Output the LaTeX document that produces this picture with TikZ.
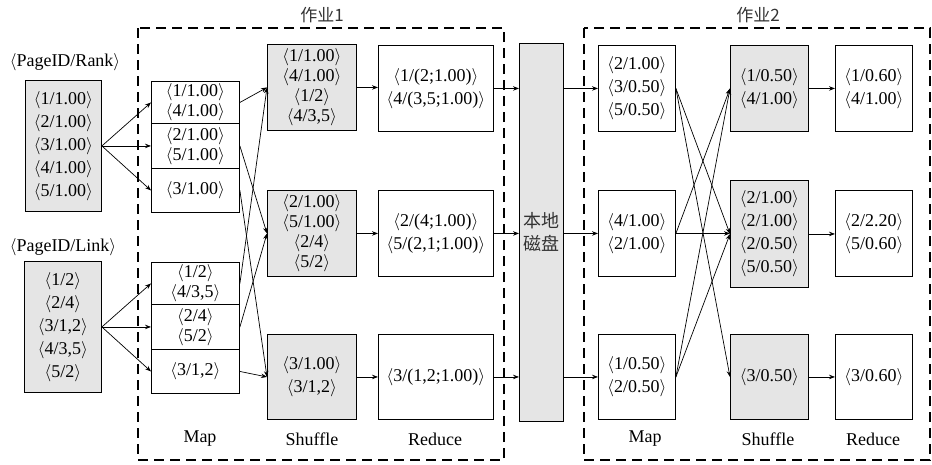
\documentclass[tikz,border=0pt]{standalone}
\usepackage{fontspec}
\setmainfont{Liberation Serif}
\newfontfamily\cjk{Noto Sans CJK SC}
\usetikzlibrary{arrows.meta}
\newcommand\pr[1]{$\langle$#1$\rangle$}
\begin{document}
\begin{tikzpicture}[x=1pt,y=-1pt,
  box/.style={draw,line width=0.9pt,inner sep=0pt,anchor=north west,align=center,
    font=\fontsize{18}{20}\selectfont},
  gbox/.style={box,fill=black!10},
  tall/.style={font=\fontsize{18}{23}\selectfont},
  lbl/.style={font=\fontsize{18}{20}\selectfont,inner sep=0pt},
  job/.style={draw,line width=2.6pt,dash pattern=on 10pt off 6pt},
  arr/.style={line width=0.7pt,-{Stealth[length=6pt,width=4.5pt]}}]
\useasboundingbox (0,0) rectangle (932,464);
% job frames
\draw[job] (138,28) rectangle (504,460);
\draw[job] (584,28) rectangle (930,460);
\node[lbl,font=\cjk\fontsize{17}{20}\selectfont,text=black!80] (j1) at (322,15) {作业1};
\node[lbl,font=\cjk\fontsize{17}{20}\selectfont,text=black!80] (j2) at (758,15) {作业2};
% inputs
\node[lbl] (rl) at (65,62) {\pr{PageID/Rank}};
\node[lbl] (ll) at (63,247) {\pr{PageID/Link}};
\node[gbox,tall,minimum width=76pt,minimum height=131pt] (rank) at (25,80)
  {\pr{1/1.00}\\\pr{2/1.00}\\\pr{3/1.00}\\\pr{4/1.00}\\\pr{5/1.00}};
\node[gbox,tall,minimum width=77pt,minimum height=131pt] (link) at (24,261)
  {\pr{1/2}\\\pr{2/4}\\\pr{3/1,2}\\\pr{4/3,5}\\\pr{5/2}};
% job1 map
\node[box,minimum width=88pt,minimum height=42pt] (m1) at (151,81) {\pr{1/1.00}\\\pr{4/1.00}};
\node[box,minimum width=88pt,minimum height=45pt] (m2) at (151,123) {\pr{2/1.00}\\\pr{5/1.00}};
\node[box,minimum width=88pt,minimum height=44pt] (m3) at (151,168) {\pr{3/1.00}};
\node[box,minimum width=88pt,minimum height=42pt] (m4) at (151,262) {\pr{1/2}\\\pr{4/3,5}};
\node[box,minimum width=88pt,minimum height=45pt] (m5) at (151,304) {\pr{2/4}\\\pr{5/2}};
\node[box,minimum width=88pt,minimum height=44pt] (m6) at (151,349) {\pr{3/1,2}};
% job1 shuffle
\node[gbox,minimum width=89pt,minimum height=86pt] (s1) at (267,44)
  {\pr{1/1.00}\\\pr{4/1.00}\\\pr{1/2}\\\pr{4/3,5}};
\node[gbox,minimum width=89pt,minimum height=86pt] (s2) at (267,190)
  {\pr{2/1.00}\\\pr{5/1.00}\\\pr{2/4}\\\pr{5/2}};
\node[gbox,tall,minimum width=89pt,minimum height=85pt] (s3) at (267,334)
  {\pr{3/1.00}\\\pr{3/1,2}};
% job1 reduce
\node[box,tall,minimum width=115pt,minimum height=86pt] (r1) at (378,45)
  {\pr{1/(2;1.00)}\\\pr{4/(3,5;1.00)}};
\node[box,tall,minimum width=115pt,minimum height=86pt] (r2) at (378,190)
  {\pr{2/(4;1.00)}\\\pr{5/(2,1;1.00)}};
\node[box,minimum width=115pt,minimum height=85pt] (r3) at (378,334)
  {\pr{3/(1,2;1.00)}};
% disk
\node[gbox,minimum width=44pt,minimum height=378pt,
  font=\cjk\fontsize{18}{23}\selectfont,text=black!80] (disk) at (519,43) {本地\\磁盘};
% job2 map
\node[box,tall,minimum width=77pt,minimum height=86pt] (n1) at (598,45)
  {\pr{2/1.00}\\\pr{3/0.50}\\\pr{5/0.50}};
\node[box,tall,minimum width=77pt,minimum height=86pt] (n2) at (598,190)
  {\pr{4/1.00}\\\pr{2/1.00}};
\node[box,tall,minimum width=77pt,minimum height=85pt] (n3) at (598,334)
  {\pr{1/0.50}\\\pr{2/0.50}};
% job2 shuffle
\node[gbox,tall,minimum width=78pt,minimum height=86pt] (t1) at (730,45)
  {\pr{1/0.50}\\\pr{4/1.00}};
\node[gbox,tall,minimum width=78pt,minimum height=107pt] (t2) at (730,180)
  {\pr{2/1.00}\\\pr{2/1.00}\\\pr{2/0.50}\\\pr{5/0.50}};
\node[gbox,minimum width=78pt,minimum height=85pt] (t3) at (730,334) {\pr{3/0.50}};
% job2 reduce
\node[box,tall,minimum width=77pt,minimum height=86pt] (u1) at (835,45)
  {\pr{1/0.60}\\\pr{4/1.00}};
\node[box,tall,minimum width=77pt,minimum height=86pt] (u2) at (835,190)
  {\pr{2/2.20}\\\pr{5/0.60}};
\node[box,minimum width=77pt,minimum height=85pt] (u3) at (835,334) {\pr{3/0.60}};
% stage labels
\node[lbl] (a1) at (200,439) {Map};
\node[lbl] (a2) at (312,439) {Shuffle};
\node[lbl] (a3) at (435,439) {Reduce};
\node[lbl] (b1) at (645,439) {Map};
\node[lbl] (b2) at (768,439) {Shuffle};
\node[lbl] (b3) at (873,439) {Reduce};
% arrows: inputs to map
\foreach \t in {m1,m2,m3} \draw[arr] (rank.east) -- (\t.west);
\foreach \t in {m4,m5,m6} \draw[arr] (link.east) -- (\t.west);
% map to shuffle
\draw[arr] (m1.east) -- (s1.west);
\draw[arr] (m4.east) -- (s1.west);
\draw[arr] (m2.east) -- (s2.west);
\draw[arr] (m5.east) -- (s2.west);
\draw[arr] (m3.east) -- (s3.west);
\draw[arr] (m6.east) -- (s3.west);
% shuffle to reduce, reduce to disk, disk to map
\foreach \a/\b in {s1/r1,s2/r2,s3/r3} \draw[arr] (\a.east) -- (\a.east -| \b.west);
\foreach \a in {r1,r2,r3} \draw[arr] (\a.east) -- (\a.east -| disk.west);
\foreach \b in {n1,n2,n3} \draw[arr] (disk.east |- \b.west) -- (\b.west);
% job2 map to shuffle
\draw[arr] (n1.east) -- (t2.west);
\draw[arr] (n1.east) -- (t3.west);
\draw[arr] (n2.east) -- (t1.west);
\draw[arr] (n2.east) -- (n2.east -| t2.west);
\draw[arr] (n3.east) -- (t1.west);
\draw[arr] (n3.east) -- (t2.west);
% job2 shuffle to reduce
\foreach \a/\b in {t1/u1,t2/u2,t3/u3} \draw[arr] (\a.east) -- (\a.east -| \b.west);
\end{tikzpicture}
\end{document}
